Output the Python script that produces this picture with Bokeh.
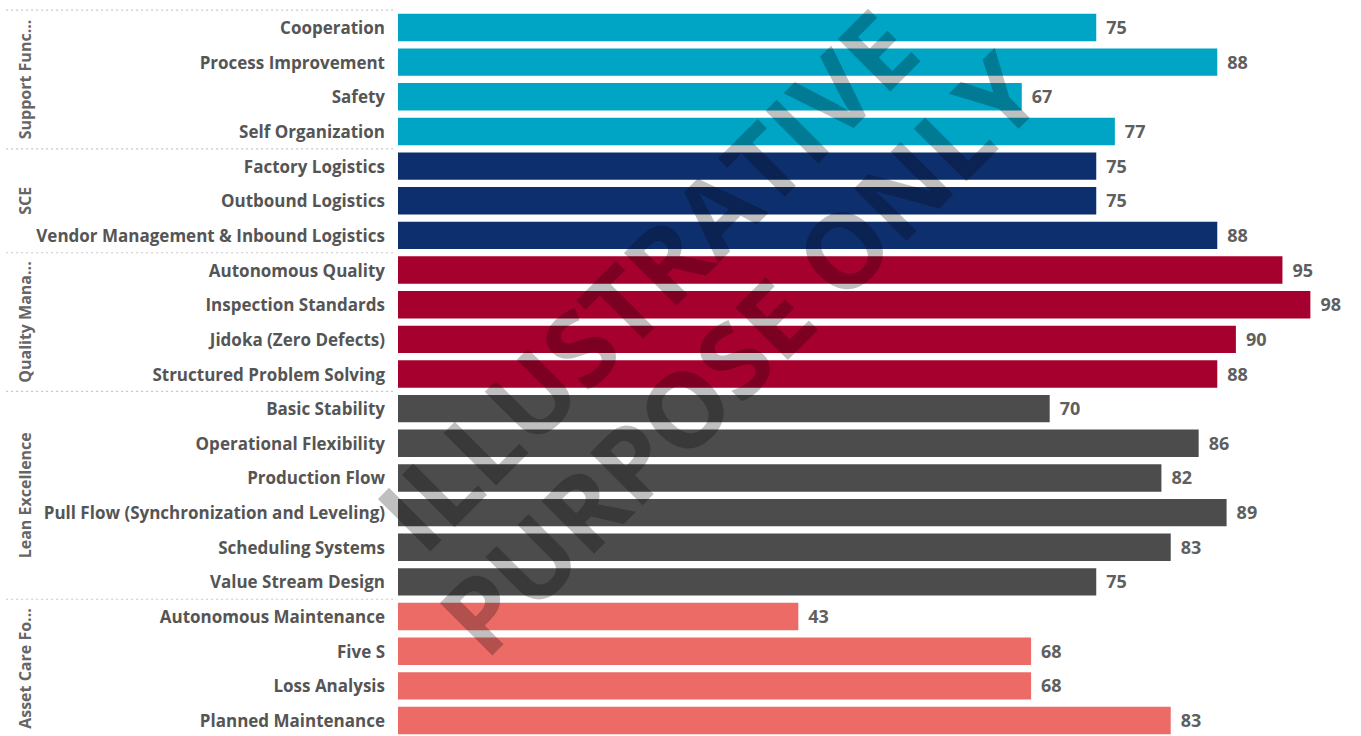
import math
from bokeh.plotting import figure
from bokeh.models import Range1d, ColumnDataSource
from bokeh.core.properties import value
from bokeh.embed import file_html
from bokeh.resources import INLINE

# ---------------- data ----------------
groups = ["Support Func...", "SCE", "Quality Mana...", "Lean Excellence", "Asset Care Fo..."]
group_colors = ["#00A4C5", "#0E2F6E", "#A6002E", "#4C4C4C", "#EC6B66"]

items = [
    "Cooperation", "Process Improvement", "Safety", "Self Organization",
    "Factory Logistics", "Outbound Logistics", "Vendor Management & Inbound Logistics",
    "Autonomous Quality", "Inspection Standards", "Jidoka (Zero Defects)", "Structured Problem Solving",
    "Basic Stability", "Operational Flexibility", "Production Flow",
    "Pull Flow (Synchronization and Leveling)", "Scheduling Systems", "Value Stream Design",
    "Autonomous Maintenance", "Five S", "Loss Analysis", "Planned Maintenance",
]
item_groups = [0, 0, 0, 0, 1, 1, 1, 2, 2, 2, 2, 3, 3, 3, 3, 3, 3, 4, 4, 4, 4]
values = [75, 88, 67, 77, 75, 75, 88, 95, 98, 90, 88, 70, 86, 82, 89, 83, 75, 43, 68, 68, 83]

watermark_lines = ["ILLUSTRATIVE", "PURPOSE ONLY"]

# ---------------- layout ----------------
W, H = 1361, 736
PX_PER_UNIT = 9.31
X0_PX = 397.5
x_start = -X0_PX / PX_PER_UNIT
x_end = x_start + W / PX_PER_UNIT
ROW = 34.65
Y0_PX = 27
y_top = -Y0_PX / ROW
y_bot = y_top + H / ROW

p = figure(width=W, height=H, x_range=Range1d(x_start, x_end), y_range=Range1d(y_bot, y_top),
           output_backend="svg", toolbar_location=None, min_border=0)
p.axis.visible = False
p.grid.visible = False
p.outline_line_color = None
p.background_fill_color = "white"

rows = list(range(len(items)))
src = ColumnDataSource(dict(
    row=rows, item=items, value=values,
    label=[str(v) for v in values],
    color=[group_colors[g] for g in item_groups],
))

p.hbar(y="row", left=0, right="value", height=0.79, fill_color="color", line_color=None, source=src)

FONT = value("Open Sans")
p.text(x=0, y="row", text="item", x_offset=-13, text_align="right", text_baseline="middle",
       text_font=FONT, text_font_style="bold", text_font_size="17px", text_color="#555555", source=src)
p.text(x="value", y="row", text="label", x_offset=10, text_align="left", text_baseline="middle",
       text_font=FONT, text_font_style="bold", text_font_size="18px", text_color="#5f5f5f", source=src)

# group labels and separators
sizes = [item_groups.count(g) for g in range(len(groups))]
starts = [sum(sizes[:g]) for g in range(len(groups))]
centers = [s + (n - 1) / 2 for s, n in zip(starts, sizes)]
p.text(x=[0] * len(groups), y=centers, text=groups, x_offset=-373, angle=math.pi / 2,
       text_align="center", text_baseline="middle", text_font=FONT, text_font_style="bold",
       text_font_size="16px", text_color="#666666")
bounds = [s - 0.5 for s in starts] + [len(items) - 0.5]
p.segment(x0=[x_start + 0.6] * len(bounds), x1=[-2 / PX_PER_UNIT] * len(bounds), y0=bounds, y1=bounds,
          line_color="#c8c8c8", line_width=1.2, line_dash="2 3")

# watermark
ang = math.radians(45)
p.text(x=[26.6, 36.5], y=[7.25, 9.38], text=watermark_lines, angle=ang,
       text_align="center", text_baseline="middle", text_font=FONT, text_font_style="bold",
       text_font_size="104px", text_color="black", text_alpha=0.25)

open("out.html", "w").write(file_html(p, INLINE))
